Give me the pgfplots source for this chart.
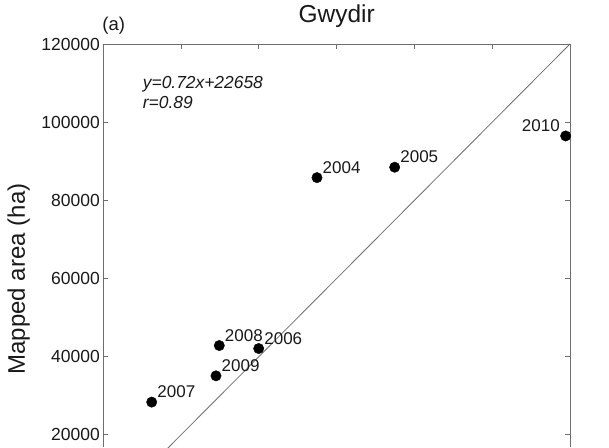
\documentclass[border=0pt]{standalone}
\usepackage{pgfplots}
\pgfplotsset{compat=1.18}
\usepackage{fontspec}
\setmainfont{Liberation Sans}
\definecolor{axgray}{RGB}{110,110,110}
\definecolor{txt}{RGB}{25,25,25}

\begin{document}
\begin{tikzpicture}
\begin{axis}[
    at={(0,0)}, anchor=south west,
    scale only axis,
    width=466.7pt, height=403pt,
    xmin=0, xmax=120000,
    ymin=16880, ymax=120000,
    axis x line*=top,
    axis y line*=box,
    axis line style={axgray, line width=0.9pt},
    tick style={axgray, line width=0.9pt},
    major tick length=5pt,
    tick align=inside,
    xtick={0,20000,...,120000},
    xticklabel=\empty,
    ytick={20000,40000,...,120000},
    scaled x ticks=false,
    scaled y ticks=false,
    /pgf/number format/fixed,
    /pgf/number format/1000 sep={},
    /pgf/number format/assume math mode=true,
    yticklabel style={font=\fontsize{17.5}{20}\selectfont, text=txt},
    title={Gwydir},
    title style={at={(axis description cs:0.5,1)}, anchor=base, inner sep=0pt,
                 yshift=15.7pt, font=\fontsize{24.5}{28}\selectfont, text=txt},
    ylabel={Mapped area (ha)},
    ylabel style={at={(axis description cs:-0.1678,0.4169)}, anchor=base,
                  inner sep=0pt, font=\fontsize{24}{28}\selectfont, text=txt},
    clip mode=individual,
]

% 1:1 line
\addplot[axgray, line width=0.8pt] coordinates {(0,0) (120000,120000)};

% mapped vs reference area, labelled by year
\addplot[only marks, mark=*, mark size=5.2pt, black,
    point meta=explicit symbolic, nodes near coords,
    every node near coord/.append style={anchor=base west, inner sep=0pt,
        xshift=5.5pt, yshift=4.3pt, font=\fontsize{17}{20}\selectfont, text=txt}]
    table[meta=label] {
x      y      label
12444  28365  2007
28975  35091  2009
29824  42840  2008
39953  42073  2006
54943  85806  2004
74919  88466  2005
};

\addplot[only marks, mark=*, mark size=5.2pt, black,
    point meta=explicit symbolic, nodes near coords,
    every node near coord/.append style={anchor=base east, inner sep=0pt,
        xshift=-5.7pt, yshift=4.3pt, font=\fontsize{17}{20}\selectfont, text=txt}]
    table[meta=label] {
x       y      label
118883  96471  2010
};

\node[anchor=base west, inner sep=0pt, text=txt,
      font=\itshape\fontsize{17.4}{20}\selectfont]
    at (axis cs:10130,108490) {y=0.72x+22658};
\node[anchor=base west, inner sep=0pt, text=txt,
      font=\itshape\fontsize{17.4}{20}\selectfont]
    at (axis cs:10130,103556) {r=0.89};

\node[anchor=base west, inner sep=0pt, text=txt, xshift=-1pt, yshift=13.3pt,
      font=\fontsize{18.5}{22}\selectfont]
    at (axis description cs:0,1) {(a)};
\end{axis}
\pgfresetboundingbox
\useasboundingbox (-103.3pt,0pt) rectangle (505.7pt,447pt);
\end{tikzpicture}
\end{document}
